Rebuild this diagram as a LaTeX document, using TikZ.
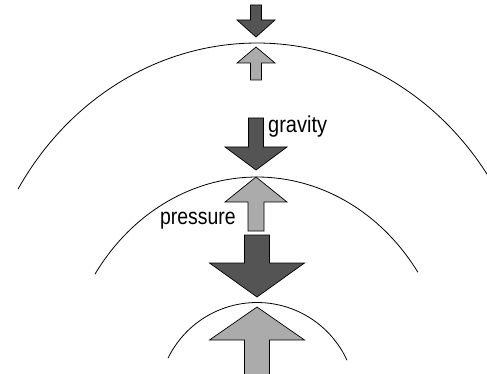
\documentclass[tikz,border=0pt]{standalone}
\usepackage{fontspec}
\setmainfont{Liberation Sans}
\usepackage{tikz}
\usetikzlibrary{positioning}
% fat arrow: centre x, shaft half width, head half width, shaft end y, head base y, tip y
\newcommand{\fatarrow}[7][]{%
  \filldraw[#1] ({#2-#3},#5) -- ({#2+#3},#5) -- ({#2+#3},#6) -- ({#2+#4},#6) -- (#2,#7)
    -- ({#2-#4},#6) -- ({#2-#3},#6) -- cycle;}
\tikzset{
  shell/.style={draw=black, line width=0.8pt},
  fallarr/.style={draw=black, line width=0.7pt, fill=black!67},
  pusharr/.style={draw=black, line width=0.7pt, fill=black!33},
  forcelbl/.style={inner sep=0pt, font=\fontsize{20}{24}\selectfont}
}
\begin{document}
\begin{tikzpicture}[x=1pt, y=-1pt]
  \useasboundingbox (0,0) rectangle (487,374);
  \clip (0,0) rectangle (487,374);
  % shells
  \draw[shell] plot[domain=148.6:28, samples=90] ({257+280*cos(\x)}, {348-305*sin(\x)});
  \draw[shell] plot[domain=146.2:34.4, samples=70] ({257+195*cos(\x)}, {396-219*sin(\x)});
  \draw[shell] plot[domain=154:24.6, samples=50] ({257+99*cos(\x)}, {401.5-99*sin(\x)});
  % arrows
  \fatarrow[fallarr]{256}{5.5}{19}{5}{20}{37}
  \fatarrow[pusharr]{256}{5.5}{19}{80}{63}{47}
  \fatarrow[fallarr]{256}{7.5}{31}{118}{147}{170}
  \fatarrow[pusharr]{256}{8}{31}{231}{202}{177}
  \fatarrow[fallarr]{257}{12.5}{47.5}{235}{263}{297}
  \fatarrow[pusharr]{257}{12.5}{47.5}{376}{340}{307}
  % labels
  \node[forcelbl, anchor=base west] (gravity) at (268,133) {\scalebox{1}[1.15]{gravity}};
  \node[forcelbl, anchor=base west] (pressure) at (160,225) {\scalebox{0.97}[1.15]{pressure}};
\end{tikzpicture}
\end{document}
